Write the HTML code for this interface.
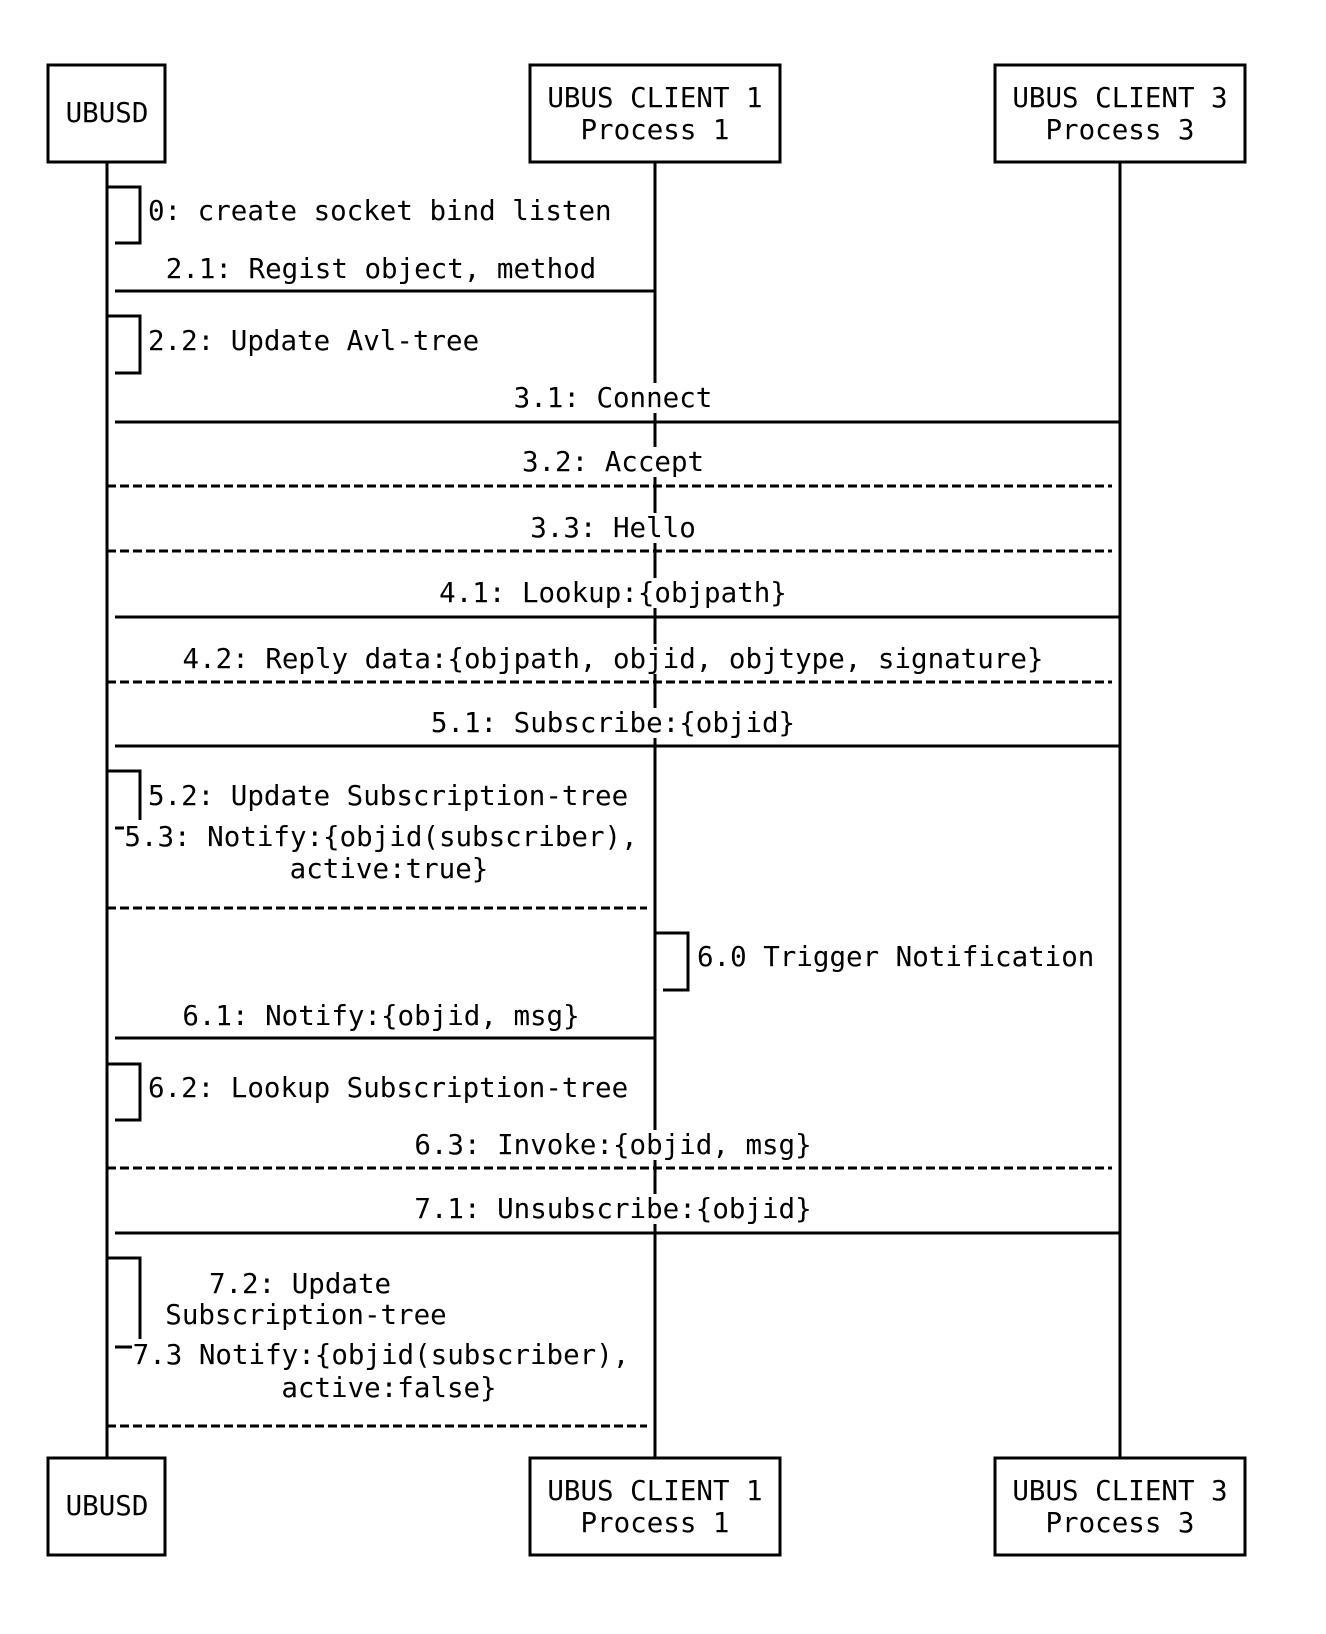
<!DOCTYPE html>
<html><head><meta charset="utf-8"><style>
html,body{margin:0;padding:0;background:#fff;}
svg{display:block;}
text{font-family:"DejaVu Sans Mono","Liberation Mono",monospace;font-size:27.5px;fill:#000;dominant-baseline:central;}
</style></head><body>
<svg width="1326" height="1634" viewBox="0 0 1326 1634" xmlns="http://www.w3.org/2000/svg">
<g stroke="#000" stroke-width="3" fill="none">
<line x1="107" y1="162" x2="107" y2="1458"/>
<line x1="655" y1="162" x2="655" y2="1458"/>
<line x1="1120" y1="162" x2="1120" y2="1458"/>
<rect x="48" y="65" width="117" height="97" fill="#fff"/>
<rect x="530" y="65" width="250" height="97" fill="#fff"/>
<rect x="995" y="65" width="250" height="97" fill="#fff"/>
<rect x="48" y="1458" width="117" height="97" fill="#fff"/>
<rect x="530" y="1458" width="250" height="97" fill="#fff"/>
<rect x="995" y="1458" width="250" height="97" fill="#fff"/>
<polyline points="107,187 140,187 140,243 115,243"/>
<polyline points="107,316 140,316 140,373 115,373"/>
<polyline points="107,771 140,771 140,820"/>
<line x1="115" y1="828" x2="124" y2="828"/>
<polyline points="655,933 688,933 688,990 663,990"/>
<polyline points="107,1064 140,1064 140,1120 115,1120"/>
<polyline points="107,1258 140,1258 140,1339"/>
<line x1="115" y1="1347" x2="132" y2="1347"/>
<line x1="115" y1="291" x2="655" y2="291"/>
<line x1="115" y1="422" x2="1120" y2="422"/>
<line x1="115" y1="617" x2="1120" y2="617"/>
<line x1="115" y1="746" x2="1120" y2="746"/>
<line x1="115" y1="1038" x2="655" y2="1038"/>
<line x1="115" y1="1233" x2="1120" y2="1233"/>
</g>
<g stroke="#000" stroke-width="3" fill="none" stroke-dasharray="9,4">
<line x1="107" y1="486" x2="1112" y2="486"/>
<line x1="107" y1="551" x2="1112" y2="551"/>
<line x1="107" y1="682" x2="1112" y2="682"/>
<line x1="107" y1="908" x2="647" y2="908"/>
<line x1="107" y1="1168" x2="1112" y2="1168"/>
<line x1="107" y1="1426" x2="647" y2="1426"/>
</g>
<g fill="#fff">
<rect x="648" y="383" width="14" height="30"/>
<rect x="648" y="447" width="14" height="30"/>
<rect x="648" y="513" width="14" height="30"/>
<rect x="648" y="578" width="14" height="30"/>
<rect x="648" y="644" width="14" height="30"/>
<rect x="648" y="708" width="14" height="30"/>
<rect x="648" y="1130" width="14" height="30"/>
<rect x="648" y="1194" width="14" height="30"/>
</g>
<g text-anchor="middle">
<text x="107" y="113">UBUSD</text>
<text x="655" y="98">UBUS CLIENT 1</text>
<text x="655" y="130">Process 1</text>
<text x="1120" y="98">UBUS CLIENT 3</text>
<text x="1120" y="130">Process 3</text>
<text x="107" y="1506">UBUSD</text>
<text x="655" y="1491">UBUS CLIENT 1</text>
<text x="655" y="1523">Process 1</text>
<text x="1120" y="1491">UBUS CLIENT 3</text>
<text x="1120" y="1523">Process 3</text>
<text x="381" y="269">2.1: Regist object, method</text>
<text x="613" y="398">3.1: Connect</text>
<text x="613" y="462">3.2: Accept</text>
<text x="613" y="528">3.3: Hello</text>
<text x="613" y="593">4.1: Lookup:{objpath}</text>
<text x="613" y="659">4.2: Reply data:{objpath, objid, objtype, signature}</text>
<text x="613" y="723">5.1: Subscribe:{objid}</text>
<text x="381" y="837">5.3: Notify:{objid(subscriber),</text>
<text x="389" y="869">active:true}</text>
<text x="381" y="1016">6.1: Notify:{objid, msg}</text>
<text x="613" y="1145">6.3: Invoke:{objid, msg}</text>
<text x="613" y="1209">7.1: Unsubscribe:{objid}</text>
<text x="300" y="1284">7.2: Update</text>
<text x="306" y="1315">Subscription-tree</text>
<text x="381" y="1355">7.3 Notify:{objid(subscriber),</text>
<text x="389" y="1388">active:false}</text>
</g>
<text x="148" y="211">0: create socket bind listen</text>
<text x="148" y="341">2.2: Update Avl-tree</text>
<text x="148" y="796">5.2: Update Subscription-tree</text>
<text x="697" y="957">6.0 Trigger Notification</text>
<text x="148" y="1088">6.2: Lookup Subscription-tree</text>
</svg>
</body></html>
